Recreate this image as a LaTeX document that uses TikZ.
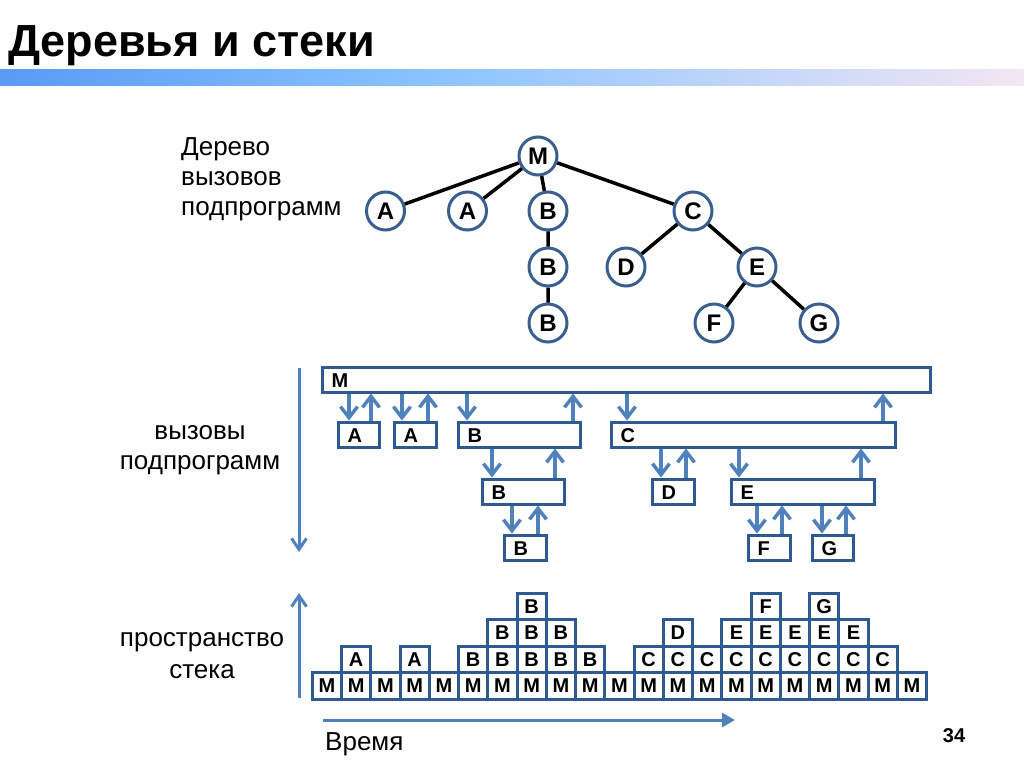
\documentclass[tikz,border=0pt]{standalone}
\usepackage{fontspec}
\setmainfont{Liberation Sans}
\usetikzlibrary{arrows.meta}
\definecolor{ringblue}{HTML}{3A5F8F}
\definecolor{arrowblue}{HTML}{4F81BD}
\definecolor{boxblue}{HTML}{2F5A91}
\definecolor{barleft}{HTML}{5A9AF5}
\definecolor{barmid}{HTML}{86C2FF}
\definecolor{barright}{HTML}{F3E6F3}

\begin{document}
\begin{tikzpicture}[x=1pt,y=-1pt,
    vert/.style={circle, draw=ringblue, line width=3pt, fill=white, minimum size=38pt,
      inner sep=0pt, font=\fontsize{24}{24}\selectfont\bfseries},
    branch/.style={line width=3.5pt},
    callbox/.style={draw=boxblue, line width=3pt, minimum height=25pt, inner sep=0pt},
    boxlbl/.style={anchor=west, inner sep=0pt, xshift=11pt, yshift=-1pt, font=\fontsize{20}{20}\selectfont\bfseries},
    call/.style={draw=arrowblue, line width=3.5pt, -{Straight Barb[length=11pt,width=17pt]}},
    axis/.style={draw=arrowblue, line width=3pt, -{Straight Barb[length=11pt,width=15pt]}},
    cell/.style={draw=boxblue, line width=3pt, minimum width=29.25pt, minimum height=26.5pt,
      inner sep=0pt, font=\fontsize{20}{20}\selectfont\bfseries},
    caption/.style={inner sep=0pt, font=\fontsize{26}{30}\selectfont}]
  \useasboundingbox (0,0) rectangle (1024,767);
  \fill[white] (0,0) rectangle (1024,767);

  % title and bar
  \node[anchor=base west, inner sep=0pt, font=\fontsize{45}{45}\selectfont\bfseries] (title) at (8,57) {Деревья и стеки};
  \shade[left color=barleft, right color=barmid] (0,70) rectangle (410,86);
  \shade[left color=barmid, right color=barright] (410,70) rectangle (1024,86);

  % call tree
  \node[caption, anchor=north west, align=left] (treetxt) at (181,137) {Дерево\\вызовов\\подпрограмм};
  \node[vert] (tM) at (538,156) {M};
  \node[vert] (tA1) at (385.5,211) {A};
  \node[vert] (tA2) at (467.5,211) {A};
  \node[vert] (tB1) at (548,211) {B};
  \node[vert] (tC) at (693,211) {C};
  \node[vert] (tB2) at (548,267) {B};
  \node[vert] (tD) at (626,267) {D};
  \node[vert] (tE) at (757,267) {E};
  \node[vert] (tB3) at (548,323) {B};
  \node[vert] (tF) at (714,323) {F};
  \node[vert] (tG) at (819,323) {G};
  \draw[branch] (tM) -- (tA1) (tM) -- (tA2) (tM) -- (tB1) (tM) -- (tC)
    (tB1) -- (tB2) (tB2) -- (tB3) (tC) -- (tD) (tC) -- (tE) (tE) -- (tF) (tE) -- (tG);

  % calls
  \node[caption, anchor=north, align=center] (calltxt) at (200,425) {вызовы\\подпрограмм};
  \coordinate (callstart) at (299,368);
  \coordinate (callend) at (299,552);
  \draw[axis] (callstart) -- (callend);
  \node[callbox, minimum width=608pt, label={[boxlbl]west:M}] (mM) at (626,379.5) {};
  \node[callbox, minimum width=41pt, label={[boxlbl]west:A}] (cA1) at (358.5,434.5) {};
  \node[callbox, minimum width=42pt, label={[boxlbl]west:A}] (cA2) at (415,434.5) {};
  \node[callbox, minimum width=122pt, label={[boxlbl]west:B}] (cB1) at (519,434.5) {};
  \node[callbox, minimum width=284pt, label={[boxlbl]west:C}] (cC) at (753,434.5) {};
  \node[callbox, minimum width=82pt, label={[boxlbl]west:B}] (cB2) at (523,491.5) {};
  \node[callbox, minimum width=42pt, label={[boxlbl]west:D}] (cD) at (673,491.5) {};
  \node[callbox, minimum width=143pt, label={[boxlbl]west:E}] (cE) at (802.5,491.5) {};
  \node[callbox, minimum width=42pt, label={[boxlbl]west:B}] (cB3) at (525,547.5) {};
  \node[callbox, minimum width=42pt, label={[boxlbl]west:F}] (cF) at (769,547.5) {};
  \node[callbox, minimum width=41pt, label={[boxlbl]west:G}] (cG) at (832.5,547.5) {};
  \foreach \up/\lo/\xd/\xu in {mM/cA1/349/371, mM/cA2/402/428, mM/cB1/467/573, mM/cC/627/883,
      cB1/cB2/492/555, cB2/cB3/512/538, cC/cD/661/686, cC/cE/739/861, cE/cF/757/782, cE/cG/822/846} {
    \draw[call] (\up.south -| \xd,0) -- (\lo.north -| \xd,0);
    \draw[call] (\lo.north -| \xu,0) -- (\up.south -| \xu,0);
  }

  % stack
  \node[caption, anchor=north, align=center, font=\fontsize{26}{32}\selectfont] (stacktxt) at (202,632) {пространство\\стека};
  \coordinate (stackstart) at (299,698);
  \coordinate (stackend) at (299,593);
  \draw[axis] (stackstart) -- (stackend);
  \foreach \c in {0,...,20}
    \node[cell] (s\c-0) at (312.3+29.25*\c+14.625,685.75) {M};
  \foreach \c/\t/\r in {1/A/1, 3/A/1, 5/B/1, 6/B/1, 7/B/1, 8/B/1, 9/B/1,
      11/C/1, 12/C/1, 13/C/1, 14/C/1, 15/C/1, 16/C/1, 17/C/1, 18/C/1, 19/C/1,
      6/B/2, 7/B/2, 8/B/2, 12/D/2, 14/E/2, 15/E/2, 16/E/2, 17/E/2, 18/E/2,
      7/B/3, 15/F/3, 17/G/3}
    \node[cell] (s\c-\r) at (312.3+29.25*\c+14.625,685.75-26.5*\r) {\t};

  % time
  \coordinate (timestart) at (323,720);
  \coordinate (timeend) at (735,720);
  \draw[draw=arrowblue, line width=3pt, -{Triangle[length=13pt,width=14pt]}] (timestart) -- (timeend);
  \node[caption, anchor=base west] (timetxt) at (325,750) {Время};
  \node[anchor=base, inner sep=0pt, font=\fontsize{20}{20}\selectfont\bfseries] (pageno) at (954,742) {34};
\end{tikzpicture}
\end{document}
